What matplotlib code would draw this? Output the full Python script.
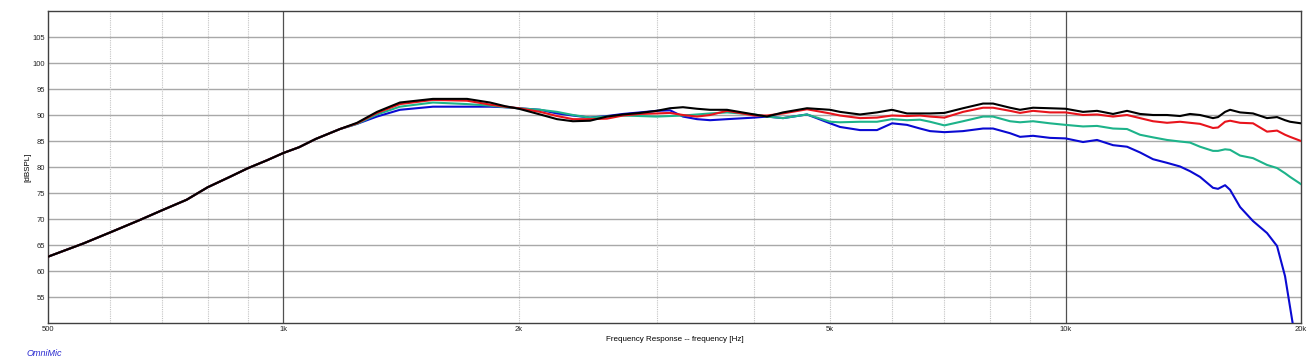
import numpy as np
import matplotlib
matplotlib.use('Agg')
import matplotlib.pyplot as plt
from matplotlib.ticker import FixedLocator, NullFormatter, NullLocator

# shared low-frequency part (all four curves overlap here)
low_freq = [500, 555, 600, 655, 700, 752, 800, 854, 900, 953, 1000, 1047, 1100, 1181]
low_db = [62.75, 65.3, 67.4, 69.8, 71.7, 73.7, 76.1, 78.1, 79.75, 81.3, 82.7, 83.8, 85.4, 87.3]

hi_freq = [1242, 1317, 1409, 1553, 1717, 1837, 1920, 2000, 2129, 2238, 2345, 2466,
           2592, 2717, 2857, 3000, 3121, 3242, 3379, 3511, 3691, 4000, 4152, 4353,
           4671, 5000, 5148, 5460, 5740, 6000, 6270, 6515, 6710, 7000, 7394, 7843,
           8077, 8492, 8746, 9087, 9553, 10000, 10527, 10971, 11500, 11984, 12451,
           12937, 13482, 14007, 14424, 14856, 15434, 15665, 15994, 16232, 16716,
           17366, 18096, 18638, 19082, 19364, 20000]

black_db = [88.5, 90.6, 92.4, 93.1, 93.1, 92.4, 91.7, 91.2, 90.1, 89.2, 88.8, 88.9,
            89.7, 90.1, 90.4, 90.8, 91.3, 91.5, 91.2, 91.0, 91.0, 90.1, 89.7, 90.5,
            91.3, 91.0, 90.6, 90.1, 90.5, 91.0, 90.3, 90.3, 90.3, 90.4, 91.3, 92.2,
            92.2, 91.4, 91.0, 91.4, 91.3, 91.2, 90.6, 90.8, 90.2, 90.8, 90.2,
            90.0, 90.0, 89.8, 90.2, 90.0, 89.4, 89.6, 90.6, 91.0, 90.5,
            90.3, 89.4, 89.6, 89.0, 88.7, 88.4]

red_db = [88.4, 90.4, 92.1, 92.9, 92.75, 92.0, 91.6, 91.3, 90.6, 89.8, 89.2, 89.2,
          89.3, 89.9, 90.2, 90.3, 90.4, 90.0, 89.7, 90.0, 90.8, 89.9, 89.9, 90.3,
          91.1, 90.3, 89.9, 89.4, 89.5, 89.9, 89.8, 89.9, 89.7, 89.5, 90.6, 91.4,
          91.4, 90.8, 90.4, 90.8, 90.5, 90.5, 90.0, 90.1, 89.7, 90.0, 89.4,
          88.8, 88.5, 88.7, 88.5, 88.3, 87.5, 87.6, 88.7, 88.9, 88.5,
          88.4, 86.8, 87.0, 86.2, 85.8, 85.0]

green_db = [88.3, 90.1, 91.6, 92.4, 92.1, 91.8, 91.5, 91.3, 91.0, 90.6, 90.0, 89.5,
            89.7, 89.9, 89.8, 89.7, 89.8, 89.9, 90.1, 90.3, 90.5, 90.1, 89.7, 89.4,
            90.1, 88.7, 88.6, 88.7, 88.7, 89.2, 89.0, 89.1, 88.7, 88.0, 88.8, 89.7,
            89.7, 88.8, 88.6, 88.8, 88.4, 88.1, 87.8, 87.9, 87.4, 87.3, 86.2,
            85.7, 85.2, 84.9, 84.7, 83.9, 83.1, 83.1, 83.4, 83.3, 82.2,
            81.7, 80.4, 79.8, 78.8, 78.1, 76.7]

blue_db = [88.3, 89.7, 91.0, 91.6, 91.6, 91.6, 91.5, 91.3, 91.0, 90.3, 89.9, 89.5,
           89.8, 90.2, 90.5, 90.8, 90.9, 89.7, 89.2, 89.0, 89.2, 89.5, 89.7, 89.4,
           90.1, 88.4, 87.7, 87.1, 87.1, 88.4, 88.1, 87.4, 86.9, 86.7, 86.9, 87.4,
           87.4, 86.5, 85.8, 86.0, 85.6, 85.5, 84.8, 85.2, 84.2, 83.9, 82.8,
           81.5, 80.8, 80.1, 79.2, 78.1, 76.0, 75.8, 76.5, 75.6, 72.3,
           69.6, 67.3, 64.8, 59.0, 53.1, 40.0]

curves = [
    (blue_db, '#0a0ad2'),
    (green_db, '#1db38a'),
    (red_db, '#e8141c'),
    (black_db, '#000000'),
]

y_ticks = [55, 60, 65, 70, 75, 80, 85, 90, 95, 100, 105]
x_ticks = [500, 1000, 2000, 5000, 10000, 20000]
x_tick_labels = ['500', '1k', '2k', '5k', '10k', '20k']
minor_freqs = [600, 700, 800, 900, 2000, 3000, 4000, 5000, 6000, 7000, 8000, 9000]
major_freqs = [1000, 10000]

plt.rcParams['font.family'] = ['Liberation Sans', 'DejaVu Sans']

fig = plt.figure(figsize=(13.14, 3.6), dpi=100)
ax = fig.add_axes([48 / 1314, 1 - 323 / 360, 1253 / 1314, 312 / 360])
ax.set_xscale('log')
ax.set_xlim(500, 20000)
ax.set_ylim(50, 110)

for y in y_ticks:
    ax.axhline(y, color='#a8a8a8', lw=1.0, zorder=1)
for f in minor_freqs:
    ax.axvline(f, color='#c4c4c4', lw=0.8, ls=(0, (1, 1)), zorder=1)
for f in major_freqs:
    ax.axvline(f, color='#505050', lw=0.9, zorder=1)

for db, col in curves:
    ax.plot(low_freq + hi_freq, low_db + db, color=col, lw=1.5, zorder=3,
            solid_joinstyle='round')

ax.xaxis.set_major_locator(FixedLocator(x_ticks))
ax.xaxis.set_minor_locator(NullLocator())
ax.xaxis.set_minor_formatter(NullFormatter())
ax.set_xticklabels(x_tick_labels)
ax.set_yticks(y_ticks)
ax.tick_params(length=0, labelsize=5.5, pad=2, colors='#222222')

for s in ax.spines.values():
    s.set_color('#404040')
    s.set_linewidth(1.0)

ax.set_xlabel('Frequency Response -- frequency [Hz]', fontsize=5.8, labelpad=2)
ax.set_ylabel('[dBSPL]', fontsize=5.8, labelpad=1)

fig.text(27 / 1314, 1 - 353 / 360, 'OmniMic', color='#2a2ad0', fontsize=6.5,
         style='italic', va='center', ha='left')

fig.savefig('out.png', dpi=100)
